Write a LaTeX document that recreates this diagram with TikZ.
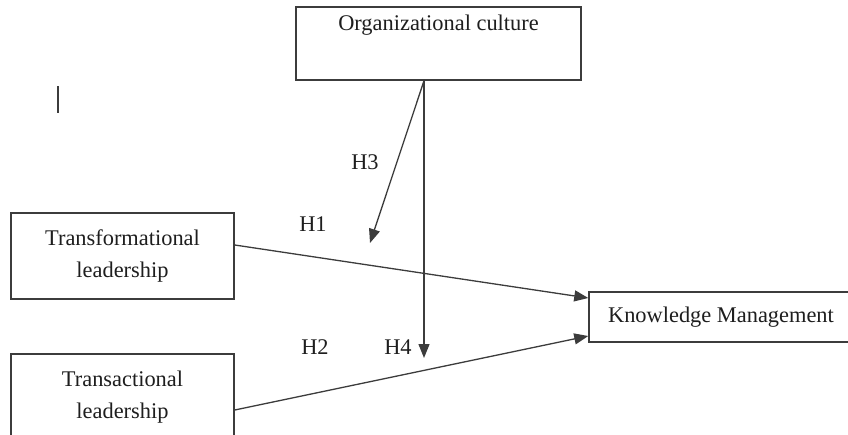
\documentclass[tikz,border=0pt]{standalone}
\usepackage{fontspec}
\setmainfont{Liberation Serif}
\usepackage{xcolor}
\usepackage{tikz}
\usetikzlibrary{arrows.meta,positioning}
\definecolor{fwInk}{HTML}{1E1E1E}
\definecolor{fwLine}{HTML}{3C3C3C}
\tikzset{
  fw diagram/.style={x=1pt, y=-1pt, font=\fontsize{22.4}{32}\selectfont,
    text=fwInk},
  fw box/.style={draw=fwLine, fill=white, line width=1.5pt,
    rectangle, align=center, inner sep=0pt},
  fw arrow/.style={-{Triangle[length=14pt,width=11pt]}, draw=fwLine,
    line width=1.3pt},
  fw label/.style={inner sep=0pt}
}

\begin{document}
\begin{tikzpicture}[fw diagram]
\useasboundingbox (0,0) rectangle (848,434);
\clip (0,0) rectangle (848,434);
\node[fw box,minimum width=285pt,minimum height=73pt] (culture) at (438.5,43.5) {Organizational culture\\ \strut};
\node[fw box,minimum width=223pt,minimum height=86pt] (transf) at (122.5,256) {Transformational\\leadership};
\node[fw box,minimum width=223pt,minimum height=86pt] (transac) at (122.5,397) {Transactional\\leadership};
\node[fw box,minimum width=300pt,minimum height=50pt] (km) at (739,317) {Knowledge Management\hspace*{36pt}};
\coordinate (h3end) at (370,243);
\coordinate (h4end) at (424,358);
\draw[fw arrow] ([yshift=11pt]transf.east) -- ([yshift=19pt]km.west);
\draw[fw arrow] ([yshift=-13pt]transac.east) -- ([yshift=-19pt]km.west);
\draw[fw arrow] ([xshift=-14.5pt]culture.south) -- (h3end);
\draw[fw arrow] ([xshift=-14.5pt]culture.south) -- (h4end);
\node[fw label] (h1) at (313,224) {H1};
\node[fw label] (h2) at (315,347) {H2};
\node[fw label] (h3) at (365,162) {H3};
\node[fw label] (h4) at (398,347) {H4};
\draw[fwLine,line width=1.6pt] (58,86) -- (58,113);
\end{tikzpicture}
\end{document}
